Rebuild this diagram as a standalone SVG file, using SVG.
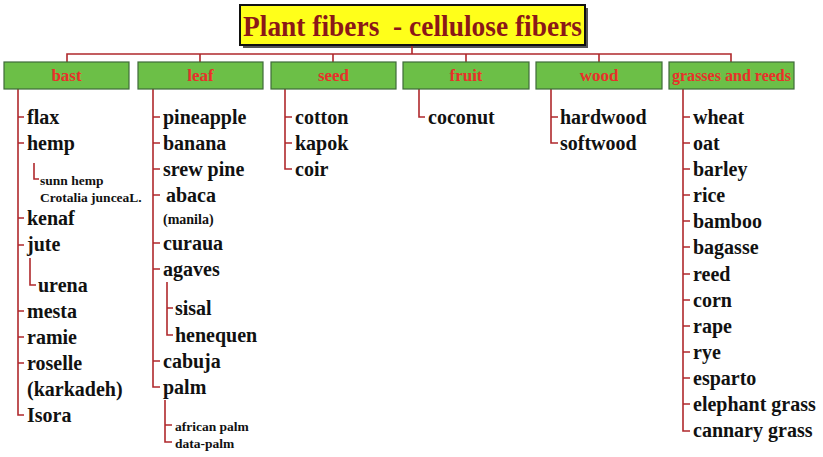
<svg xmlns="http://www.w3.org/2000/svg" width="823" height="457" viewBox="0 0 823 457">
<style>
.ln{stroke:#B0282C;stroke-width:1.6;fill:none}
.cat rect{fill:#6CBF47;stroke:#3F6B3A;stroke-width:1.2}
.cat text{font-family:"Liberation Serif",serif;font-size:17px;font-weight:bold;fill:#E8302A;text-anchor:middle}
.it{font-family:"Liberation Serif",serif;font-size:20px;font-weight:bold;fill:#111}
.sm{font-family:"Liberation Serif",serif;font-size:13.5px;font-weight:bold;fill:#111}
.md{font-family:"Liberation Serif",serif;font-size:14px;font-weight:bold;fill:#111}
</style>
<rect width="823" height="457" fill="#fff"/>
<g id="title">
<rect x="243" y="8" width="345" height="40" fill="#555"/>
<rect x="240" y="5" width="345" height="40" fill="#FFFF1A" stroke="#111" stroke-width="2"/>
<text x="412.5" y="36" text-anchor="middle" font-family="Liberation Serif,serif" font-size="30" font-weight="bold" fill="#8B1818" textLength="339" lengthAdjust="spacingAndGlyphs">Plant fibers&#160; - cellulose fibers</text>
</g>
<g id="connectors" class="ln">
<path d="M412 46V54M67 62V54H731V62M200 54V62M333 54V62M466 54V62M599 54V62"/>
<path d="M18 89V415H24M18 117H24M18 143H24M18 218H24M18 245H24M18 311H24M18 337H24M18 363H24"/>
<path d="M34 163V179H39M30 258V285H36"/>
<path d="M153 89V387H160M153 117H160M153 143H160M153 169H160M153 195H160M153 243H160M153 269H160M153 361H160"/>
<path d="M167 282V335H173M167 308H173M165 400V442H172M165 425H172"/>
<path d="M285 89V169H292M285 117H292M285 143H292"/>
<path d="M419 89V117H425"/>
<path d="M551 89V143H558M551 117H558"/>
<path d="M683 89V431H690M683 117H690M683 143H690M683 169H690M683 195H690M683 221H690M683 247H690M683 274H690M683 300H690M683 326H690M683 352H690M683 378H690M683 404H690"/>
</g>
<g id="bast" class="cat"><rect x="4" y="62" width="125" height="27"/><text x="66.5" y="81">bast</text></g>
<g id="leaf" class="cat"><rect x="138" y="62" width="125" height="27"/><text x="200.5" y="81">leaf</text></g>
<g id="seed" class="cat"><rect x="271" y="62" width="125" height="27"/><text x="333.5" y="81">seed</text></g>
<g id="fruit" class="cat"><rect x="403" y="62" width="126" height="27"/><text x="466" y="81">fruit</text></g>
<g id="wood" class="cat"><rect x="536" y="62" width="126" height="27"/><text x="599" y="81">wood</text></g>
<g id="grasses" class="cat"><rect x="669" y="62" width="125" height="27"/><text x="731.5" y="81" textLength="119" lengthAdjust="spacingAndGlyphs">grasses and reeds</text></g>
<g id="bast-items">
<text class="it" x="27" y="124">flax</text>
<text class="it" x="27" y="150">hemp</text>
<text class="sm" x="40" y="185">sunn hemp</text>
<text class="sm" x="40" y="202">Crotalia junceaL.</text>
<text class="it" x="27" y="225">kenaf</text>
<text class="it" x="27" y="251">jute</text>
<text class="it" x="38" y="292">urena</text>
<text class="it" x="27" y="318">mesta</text>
<text class="it" x="27" y="344">ramie</text>
<text class="it" x="27" y="370">roselle</text>
<text class="it" x="27" y="396">(karkadeh)</text>
<text class="it" x="27" y="422">Isora</text>
</g>
<g id="leaf-items">
<text class="it" x="163" y="124">pineapple</text>
<text class="it" x="163" y="150">banana</text>
<text class="it" x="163" y="176">srew pine</text>
<text class="it" x="166" y="202">abaca</text>
<text class="md" x="163" y="224">(manila)</text>
<text class="it" x="163" y="250">curaua</text>
<text class="it" x="163" y="276">agaves</text>
<text class="it" x="175" y="315">sisal</text>
<text class="it" x="175" y="342">henequen</text>
<text class="it" x="163" y="368">cabuja</text>
<text class="it" x="163" y="394">palm</text>
<text class="sm" x="175" y="431">african palm</text>
<text class="sm" x="175" y="448">data-palm</text>
</g>
<g id="seed-items">
<text class="it" x="295" y="124">cotton</text>
<text class="it" x="295" y="150">kapok</text>
<text class="it" x="295" y="176">coir</text>
</g>
<g id="fruit-items">
<text class="it" x="428" y="124">coconut</text>
</g>
<g id="wood-items">
<text class="it" x="560" y="124">hardwood</text>
<text class="it" x="560" y="150">softwood</text>
</g>
<g id="grasses-items">
<text class="it" x="693" y="124">wheat</text>
<text class="it" x="693" y="150">oat</text>
<text class="it" x="693" y="176">barley</text>
<text class="it" x="693" y="202">rice</text>
<text class="it" x="693" y="228">bamboo</text>
<text class="it" x="693" y="254">bagasse</text>
<text class="it" x="693" y="281">reed</text>
<text class="it" x="693" y="307">corn</text>
<text class="it" x="693" y="333">rape</text>
<text class="it" x="693" y="359">rye</text>
<text class="it" x="693" y="385">esparto</text>
<text class="it" x="693" y="411">elephant grass</text>
<text class="it" x="693" y="437">cannary grass</text>
</g>
</svg>
